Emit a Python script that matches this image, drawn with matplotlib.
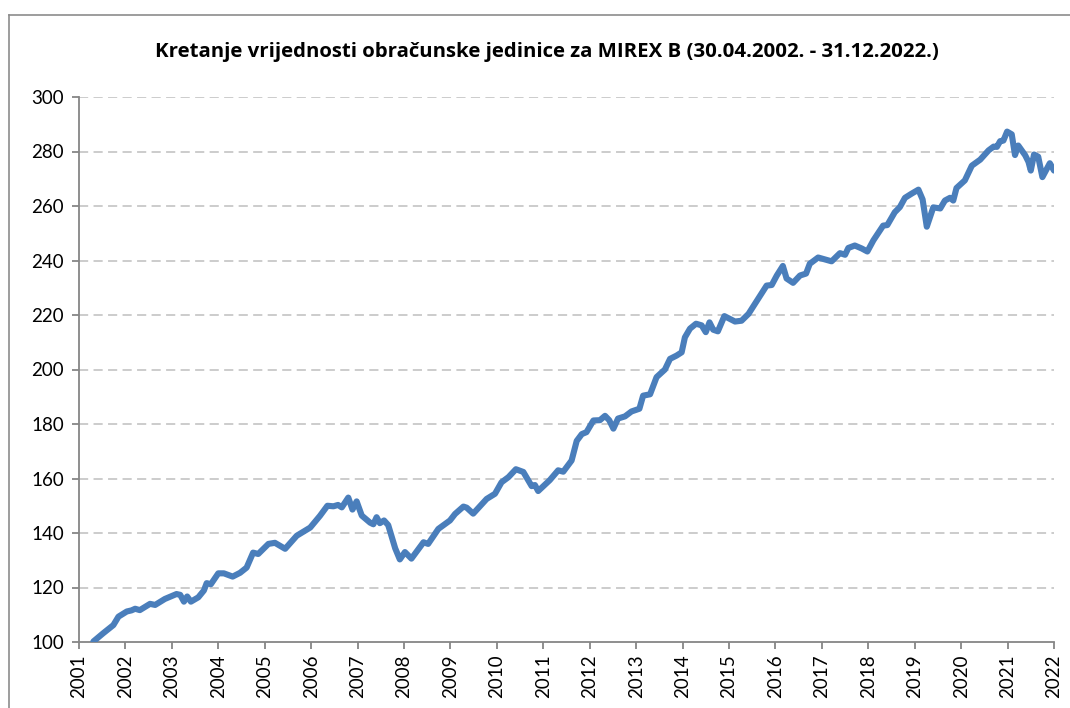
import matplotlib
matplotlib.use("Agg")
import matplotlib.pyplot as plt
from matplotlib.lines import Line2D

# Data (fractional year position on axis, index value)
years = [2001.31, 2001.52, 2001.74, 2001.85, 2002.03, 2002.13, 2002.21, 2002.31, 2002.53, 2002.64,
         2002.85, 2003.10, 2003.18, 2003.26, 2003.33, 2003.41, 2003.57, 2003.69, 2003.75, 2003.84,
         2004.00, 2004.12, 2004.31, 2004.47, 2004.61, 2004.75, 2004.86, 2005.08, 2005.22, 2005.44,
         2005.69, 2005.98, 2006.19, 2006.35, 2006.48, 2006.58, 2006.66, 2006.80, 2006.89, 2006.98,
         2007.09, 2007.27, 2007.34, 2007.41, 2007.48, 2007.57, 2007.66, 2007.81, 2007.91, 2008.02,
         2008.16, 2008.42, 2008.52, 2008.74, 2008.99, 2009.10, 2009.28, 2009.35, 2009.49, 2009.78,
         2009.96, 2010.10, 2010.25, 2010.41, 2010.57, 2010.75, 2010.82, 2010.89, 2011.14, 2011.32,
         2011.43, 2011.61, 2011.72, 2011.83, 2011.93, 2012.08, 2012.22, 2012.33, 2012.42, 2012.51,
         2012.61, 2012.76, 2012.90, 2013.07, 2013.15, 2013.30, 2013.44, 2013.62, 2013.73, 2013.87,
         2013.98, 2014.05, 2014.16, 2014.29, 2014.41, 2014.50, 2014.58, 2014.66, 2014.76, 2014.90,
         2015.13, 2015.27, 2015.42, 2015.63, 2015.81, 2015.92, 2016.03, 2016.16, 2016.24, 2016.38,
         2016.53, 2016.66, 2016.74, 2016.92, 2017.21, 2017.39, 2017.50, 2017.57, 2017.71, 2017.86,
         2017.98, 2018.11, 2018.32, 2018.41, 2018.57, 2018.68, 2018.79, 2018.93, 2019.08, 2019.17,
         2019.26, 2019.40, 2019.55, 2019.65, 2019.76, 2019.83, 2019.90, 2020.08, 2020.23, 2020.41,
         2020.59, 2020.70, 2020.77, 2020.84, 2020.91, 2020.99, 2021.09, 2021.16, 2021.23, 2021.38,
         2021.45, 2021.50, 2021.57, 2021.66, 2021.75, 2021.91, 2022.00]
values = [100.2, 103.2, 106.2, 109.3, 111.2, 111.6, 112.2, 111.7, 114.0, 113.6,
          115.8, 117.6, 117.3, 114.8, 116.7, 114.8, 116.4, 118.9, 121.6, 121.2,
          125.2, 125.2, 124.0, 125.4, 127.3, 132.8, 132.3, 136.0, 136.4, 134.2,
          139.0, 142.0, 146.3, 150.0, 149.8, 150.3, 149.4, 153.0, 148.6, 151.6,
          146.4, 143.8, 143.2, 145.8, 143.6, 144.6, 142.9, 134.4, 130.3, 133.0,
          130.6, 136.6, 136.0, 141.5, 144.6, 147.0, 149.7, 149.3, 147.1, 152.5,
          154.4, 158.6, 160.5, 163.4, 162.4, 157.2, 157.6, 155.4, 159.4, 163.0,
          162.5, 166.6, 173.8, 176.3, 177.0, 181.3, 181.4, 183.0, 181.4, 178.3,
          182.0, 182.8, 184.6, 185.6, 190.4, 190.9, 197.2, 200.0, 203.9, 205.1,
          206.3, 211.8, 215.0, 216.8, 216.2, 213.7, 217.3, 214.6, 214.0, 219.6,
          217.6, 217.9, 220.4, 226.0, 230.8, 231.0, 234.5, 238.0, 233.4, 231.8,
          234.5, 235.2, 238.8, 241.1, 239.7, 242.7, 242.1, 244.6, 245.5, 244.4,
          243.3, 247.4, 252.8, 253.0, 257.7, 259.6, 263.0, 264.5, 266.0, 262.4,
          252.4, 259.5, 259.1, 262.0, 263.0, 262.0, 266.6, 269.4, 274.8, 277.0,
          280.4, 281.8, 281.7, 283.8, 284.0, 287.3, 286.3, 278.7, 282.2, 278.6,
          276.2, 273.0, 278.9, 278.1, 270.6, 275.7, 273.0]

tick_years = list(range(2001, 2023))
tick_labels = [str(y) for y in tick_years]
y_ticks = [100, 120, 140, 160, 180, 200, 220, 240, 260, 280, 300]

title = "Kretanje vrijednosti obračunske jedinice za MIREX B (30.04.2002. - 31.12.2022.)"

plt.rcParams['font.family'] = ['Lato', 'DejaVu Sans']

fig = plt.figure(figsize=(10.70, 7.08), dpi=100)
ax = fig.add_axes([79/1070, 1 - 642/708, (1054 - 79)/1070, (642 - 97)/708])

ax.plot(years, values, color='#4A7EBB', linewidth=4.4, solid_capstyle='round',
        solid_joinstyle='round', zorder=3)

ax.set_xlim(2001, 2022)
ax.set_ylim(100, 300)
ax.set_xticks(tick_years)
ax.set_xticklabels(tick_labels, rotation=90, fontsize=13.5)
ax.set_yticks(y_ticks)
ax.set_yticklabels([str(v) for v in y_ticks], fontsize=13.5)

for v in y_ticks[1:]:
    ax.axhline(v, color='#BFBFBF', linewidth=1.1, dashes=(6, 3.5), zorder=1)

for s in ['top', 'right']:
    ax.spines[s].set_visible(False)
for s in ['left', 'bottom']:
    ax.spines[s].set_color('#868686')
    ax.spines[s].set_linewidth(1.3)
ax.tick_params(axis='both', direction='out', length=5, width=1.3, color='#868686',
               labelcolor='black')
ax.tick_params(axis='x', pad=4)
ax.tick_params(axis='y', pad=6)

fig.text(547/1070, 1 - 52/708, title, ha='center', va='center', fontsize=14.7,
         fontweight='bold', family=['Open Sans', 'DejaVu Sans'])

# outer chart border (top and left visible)
fig.add_artist(Line2D([9/1070, 9/1070], [0, 1 - 15/708], transform=fig.transFigure,
                      color='#8C8C8C', linewidth=1.2))
fig.add_artist(Line2D([9/1070, 1], [1 - 15/708, 1 - 15/708], transform=fig.transFigure,
                      color='#8C8C8C', linewidth=1.2))

fig.savefig('out.png', dpi=100)
